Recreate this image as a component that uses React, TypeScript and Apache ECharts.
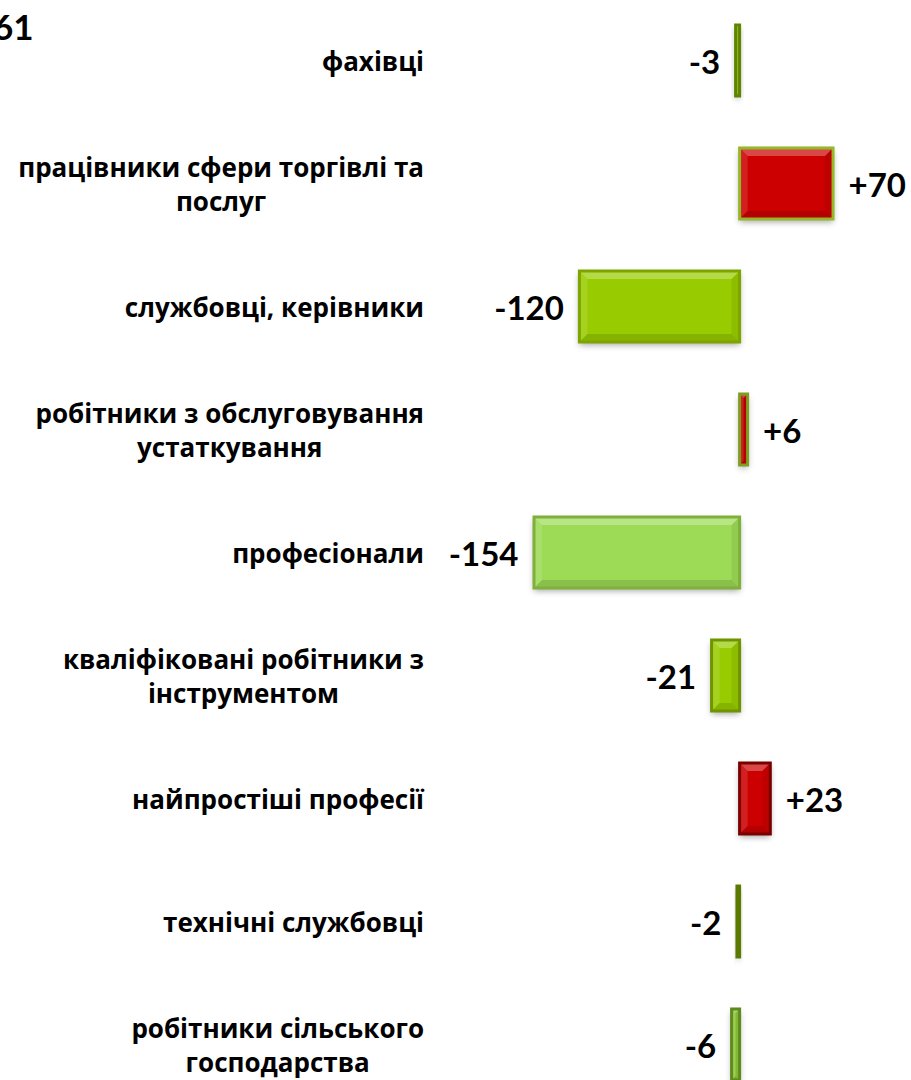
import React, { useEffect, useRef } from "react";
import * as echarts from "echarts";

const categories = [
  "фахівці",
  "працівники сфери торгівлі та\nпослуг",
  "службовці, керівники",
  "робітники з обслуговування\nустаткування",
  "професіонали",
  "кваліфіковані робітники з\nінструментом",
  "найпростіші професії",
  "технічні службовці",
  "робітники сільського\nгосподарства",
];
const values = [-3, 70, -120, 6, -154, -21, 23, -2, -6];
const cornerText = "61";

const LABEL_FONT = "'Open Sans', 'Noto Sans', sans-serif";
const VALUE_FONT = "Lato, 'Open Sans', sans-serif";

const styleByIndex = [
  { fill: "#8cbf14", border: "#5f8500" },
  { fill: "#cc0000", border: "#94b828" },
  { fill: "#99cc00", border: "#7ea400" },
  { fill: "#c40000", border: "#7e9e20" },
  { fill: "#9ddb56", border: "#7fb03a" },
  { fill: "#99cc00", border: "#6f9400" },
  { fill: "#cc0000", border: "#7a0000" },
  { fill: "#86b000", border: "#5a7a00" },
  { fill: "#8cc838", border: "#5f8a20" },
];

export default function App() {
  const ref = useRef<HTMLDivElement>(null);
  useEffect(() => {
    document.body.style.margin = "0";
    const chart = echarts.init(ref.current!, null, { renderer: "svg" });
    const renderItem = (params: any, api: any) => {
      const v = api.value(0);
      const cat = api.value(1);
      const p0 = api.coord([0, cat]);
      const p1 = api.coord([v, cat]);
      const band = api.size([0, 1])[1];
      const h = band * 0.577;
      const L = Math.min(p0[0], p1[0]);
      const R = Math.max(p0[0], p1[0]);
      const T = p0[1] - h / 2;
      const B = p0[1] + h / 2;
      const w = R - L;
      const s = styleByIndex[params.dataIndex];
      const b = Math.min(8, w / 2, h / 2);
      const poly = (pts: number[][], fill: string) => ({
        type: "polygon",
        shape: { points: pts },
        style: { fill },
        silent: true,
      });
      const half = 1.5;
      const txt = v > 0 ? "+" + v : String(v);
      return {
        type: "group",
        children: [
          {
            type: "rect",
            shape: { x: L, y: T, width: w, height: h },
            style: {
              fill: s.fill,
              shadowColor: "rgba(0,0,0,0.35)",
              shadowBlur: 6,
              shadowOffsetY: 3,
            },
          },
          poly([[L, T], [R, T], [R - b, T + b], [L + b, T + b]], "rgba(255,255,255,0.28)"),
          poly([[L, B], [R, B], [R - b, B - b], [L + b, B - b]], "rgba(0,0,0,0.12)"),
          poly([[L, T], [L + b, T + b], [L + b, B - b], [L, B]], "rgba(255,255,255,0.12)"),
          poly([[R, T], [R - b, T + b], [R - b, B - b], [R, B]], "rgba(0,0,0,0.07)"),
          {
            type: "rect",
            shape: { x: L, y: T, width: w, height: h },
            style: { fill: "none", stroke: s.border, lineWidth: 3 },
          },
          {
            type: "text",
            x: v < 0 ? L - half - 14 : R + half + 14,
            y: p0[1],
            style: {
              text: txt,
              font: `bold 33px ${VALUE_FONT}`,
              fill: "#000000",
              align: v < 0 ? "right" : "left",
              verticalAlign: "middle",
            },
          },
        ],
      };
    };
    chart.setOption({
      animation: false,
      backgroundColor: "#ffffff",
      grid: {
        left: 526,
        width: 320.4,
        top: -1,
        height: 1107,
        outerBoundsMode: "none",
        containLabel: false,
      },
      xAxis: {
        type: "value",
        min: -160,
        max: 80,
        show: false,
      },
      yAxis: {
        type: "category",
        inverse: true,
        data: categories,
        axisLine: { show: false },
        axisTick: { show: false },
        splitLine: { show: false },
        axisLabel: {
          margin: 102,
          formatter: (v: string) =>
            v
              .split("\n")
              .map((l) => `{c|${l}}`)
              .join("\n"),
          rich: {
            c: {
              align: "center",
              fontFamily: LABEL_FONT,
              fontSize: 26,
              fontWeight: "bold",
              color: "#000000",
              lineHeight: 34,
            },
          },
        },
      },
      series: [
        {
          type: "custom",
          renderItem,
          encode: { x: 0, y: 1 },
          data: values.map((v, i) => [v, i]),
          clip: false,
        },
      ],
      graphic: [
        {
          type: "text",
          x: -7,
          y: 26,
          style: {
            text: cornerText,
            font: `bold 35px ${VALUE_FONT}`,
            fill: "#000000",
            verticalAlign: "middle",
          },
        },
      ],
    });
    return () => chart.dispose();
  }, []);
  return (
    <div style={{ width: 911, height: 1080, overflow: "hidden", position: "relative" }}>
      <div ref={ref} style={{ width: 911, height: 1120 }} />
    </div>
  );
}
